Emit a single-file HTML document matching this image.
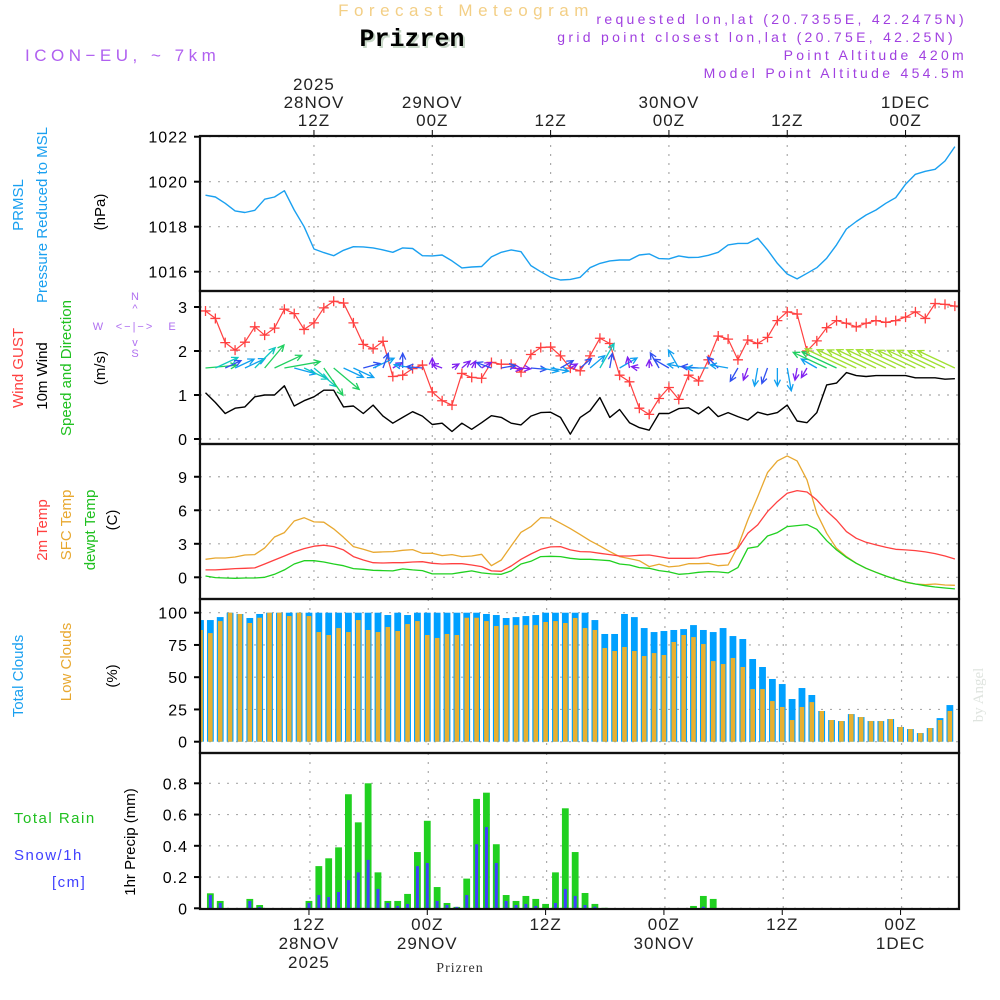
<!DOCTYPE html>
<html><head><meta charset="utf-8"><style>
html,body{margin:0;padding:0;background:#fff;}
svg{display:block;font-family:"Liberation Sans",sans-serif;}
</style></head><body>
<svg id="chart" width="1000" height="1000" viewBox="0 0 1000 1000">
<defs>
<clipPath id="clipP"><rect x="200" y="136" width="759" height="773"/></clipPath>
</defs>
<rect x="0" y="0" width="1000" height="1000" fill="#fff"/>
<text x="466" y="16" text-anchor="middle" font-size="17" fill="#f3cf86" letter-spacing="5.5">Forecast Meteogram</text>
<text x="414" y="48" text-anchor="middle" font-size="25" font-weight="bold" fill="#c8d8c8" font-family="Liberation Mono,monospace">Prizren</text>
<text x="412" y="46" text-anchor="middle" font-size="25" font-weight="bold" fill="#000" font-family="Liberation Mono,monospace">Prizren</text>
<text x="25" y="61" font-size="17" fill="#b060f0" letter-spacing="4.5">ICON−EU, ~ 7km</text>
<g font-size="14" fill="#a040e0" text-anchor="end" letter-spacing="3.3">
<text x="967" y="24">requested lon,lat (20.7355E, 42.2475N)</text>
<text x="956" y="42">grid point closest lon,lat (20.75E, 42.25N)</text>
<text x="967" y="60">Point Altitude 420m</text>
<text x="967" y="78">Model Point Altitude 454.5m</text>
</g>
<g id="grid"></g>
<g id="marks" clip-path="url(#clipP)"></g>
<g id="axes"></g>
<g font-size="15" text-anchor="middle">
<text transform="translate(23,205) rotate(-90)" fill="#1aa0f0">PRMSL</text>
<text transform="translate(47,215) rotate(-90)" fill="#1aa0f0">Pressure Reduced to MSL</text>
<text transform="translate(105,212) rotate(-90)" fill="#000">(hPa)</text>
<text transform="translate(23,368) rotate(-90)" fill="#ff4040">Wind GUST</text>
<text transform="translate(47,376) rotate(-90)" fill="#000">10m Wind</text>
<text transform="translate(71,368) rotate(-90)" fill="#20c020">Speed and Direction</text>
<text transform="translate(105,368) rotate(-90)" fill="#000">(m/s)</text>
<text transform="translate(47,530) rotate(-90)" fill="#ff4040">2m Temp</text>
<text transform="translate(71,525) rotate(-90)" fill="#e8a830">SFC Temp</text>
<text transform="translate(95,530) rotate(-90)" fill="#20c020">dewpt Temp</text>
<text transform="translate(117,520) rotate(-90)" fill="#000">(C)</text>
<text transform="translate(23,676) rotate(-90)" fill="#1aa0f0">Total Clouds</text>
<text transform="translate(71,662) rotate(-90)" fill="#e8a830">Low Clouds</text>
<text transform="translate(117,676) rotate(-90)" fill="#000">(%)</text>
<text transform="translate(135,842) rotate(-90)" fill="#000">1hr Precip (mm)</text>
</g>
<g font-size="15">
<text x="14" y="823" fill="#20c020" letter-spacing="1.5">Total   Rain</text>
<text x="14" y="860" fill="#4040ff" letter-spacing="1.5">Snow/1h</text>
<text x="52" y="887" fill="#4040ff" letter-spacing="1.5">[cm]</text>
</g>
<g font-size="11" fill="#b070f0" text-anchor="middle">
<text x="135" y="300">N</text>
<text x="135" y="312">^</text>
<text x="135" y="330" letter-spacing="2">&lt;−|−&gt;</text>
<text x="98" y="330">W</text>
<text x="172" y="330">E</text>
<text x="135" y="346">v</text>
<text x="135" y="357">S</text>
</g>
<text transform="translate(983,695) rotate(-90)" font-size="15" fill="#dfe4df" text-anchor="middle" font-family="Liberation Serif,serif">by Angel</text>
<text x="460" y="972" font-size="14" text-anchor="middle" fill="#333" font-family="Liberation Serif,serif" letter-spacing="1">Prizren</text>
</svg>
<script>
const hours = [];
for (let h = 1; h <= 77; h++) hours.push(h);
const pressure = [1019.40,1019.32,1019.04,1018.70,1018.63,1018.73,1019.22,1019.32,1019.60,1018.74,1018.0,1017.01,1016.85,1016.71,1016.95,1017.11,1017.1,1017.06,1016.97,1016.86,1017.06,1017.03,1016.71,1016.70,1016.74,1016.48,1016.17,1016.21,1016.23,1016.66,1016.86,1016.97,1016.89,1016.27,1016.0,1015.75,1015.63,1015.66,1015.75,1016.18,
1016.37,1016.48,1016.52,1016.52,1016.74,1016.79,1016.58,1016.57,1016.70,1016.63,1016.64,1016.73,1016.86,1017.19,1017.26,1017.26,1017.49,1016.97,1016.37,1015.9,1015.68,1015.93,1016.18,1016.6,1017.19,1017.9,1018.23,1018.52,1018.74,1019.04,1019.29,1019.89,1020.33,1020.46,1020.55,1020.92,1021.56];
const gust = [2.91,2.74,2.19,2.02,2.20,2.55,2.36,2.52,2.95,2.85,2.49,2.64,2.98,3.13,3.09,2.64,2.15,2.05,2.22,1.42,1.45,1.60,1.68,1.07,0.87,0.77,1.49,1.40,1.38,1.74,1.70,1.70,1.52,1.92,2.08,2.09,1.89,1.61,1.55,1.89,
2.29,2.17,1.45,1.30,0.70,0.56,0.92,1.17,0.90,1.45,1.32,1.80,2.34,2.27,1.80,2.25,2.17,2.31,2.69,2.89,2.84,2.0,2.23,2.53,2.69,2.63,2.55,2.63,2.69,2.65,2.69,2.77,2.89,2.74,3.08,3.06,3.02];
const wind = [1.05,0.83,0.58,0.70,0.73,0.96,1.0,1.0,1.21,0.75,0.87,0.96,1.11,1.11,0.73,0.75,0.58,0.77,0.52,0.36,0.49,0.62,0.52,0.33,0.36,0.17,0.36,0.22,0.37,0.53,0.49,0.36,0.32,0.52,0.60,0.61,0.49,0.11,0.49,0.64,
0.94,0.49,0.67,0.37,0.26,0.20,0.58,0.58,0.69,0.71,0.57,0.73,0.51,0.60,0.51,0.43,0.61,0.55,0.60,0.77,0.41,0.37,0.60,1.23,1.27,1.51,1.44,1.42,1.44,1.44,1.44,1.44,1.39,1.39,1.39,1.36,1.37];
const windDir = [5,25,25,25,25,45,50,25,10,-15,-25,-40,-55,-40,-25,-25,15,25,70,30,90,170,175,90,160,30,40,60,30,160,10,-5,-5,-5,-10,-10,30,30,40,40,
60,80,30,100,170,90,120,150,120,170,175,180,135,170,-120,-110,-100,-110,-90,-80,-100,-120,150,155,155,155,155,155,155,155,155,155,155,155,155,155,155];
const t2m = [0.66,0.66,0.72,0.78,0.81,0.84,1.19,1.55,1.91,2.27,2.57,2.78,2.87,2.75,2.45,1.85,1.55,1.31,1.28,1.31,1.31,1.37,1.40,1.25,1.19,1.22,1.22,1.10,0.96,0.57,0.54,1.01,1.61,2.09,2.51,2.72,2.75,2.45,2.30,2.27,
2.15,2.03,1.91,1.91,1.97,2.0,1.85,1.70,1.70,1.70,1.73,1.94,2.06,2.15,2.60,3.94,4.69,5.88,6.78,7.52,7.76,7.64,6.93,5.94,5.13,4.09,3.49,3.13,2.90,2.69,2.51,2.45,2.39,2.27,2.12,1.91,1.64];
const tsfc = [1.61,1.73,1.73,1.82,2.0,2.03,2.63,3.61,4.0,5.04,5.34,4.96,4.93,4.33,3.58,2.75,2.51,2.24,2.27,2.30,2.42,2.48,2.15,2.15,1.94,2.03,1.85,1.91,2.06,1.04,1.55,2.81,4.03,4.54,5.34,5.31,4.84,4.36,3.82,3.28,
2.81,2.30,1.85,1.67,1.49,0.96,1.16,0.93,1.01,1.22,1.22,1.25,1.04,1.10,2.75,5.13,7.22,9.37,10.42,10.87,10.42,8.72,5.73,3.94,2.60,1.85,1.25,0.81,0.45,0.12,-0.18,-0.45,-0.60,-0.66,-0.60,-0.69,-0.72];
const dewpt = [0.12,-0.03,-0.06,-0.09,-0.06,-0.06,0,0.27,0.66,1.19,1.49,1.49,1.37,1.19,1.04,0.78,0.72,0.63,0.60,0.57,0.75,0.66,0.60,0.30,0.30,0.30,0.45,0.57,0.39,0.30,0.27,0.57,1.19,1.43,1.85,1.88,1.85,1.70,1.61,1.61,
1.55,1.49,1.19,1.10,0.87,0.81,0.60,0.48,0.27,0.33,0.45,0.51,0.48,0.39,0.87,2.60,2.75,3.70,4.00,4.54,4.63,4.72,4.30,3.28,2.45,1.79,1.25,0.81,0.45,0.12,-0.18,-0.42,-0.60,-0.75,-0.87,-0.96,-1.04];
const totalClouds = [94.3,94.3,96.6,100,99,95.9,99,100,100,100,100,100,100,100,100,100,100,100,100,98.2,100,98.2,100,100,100,100,100,100,100,99,98.2,95.9,96.6,97.4,98.2,100,100,100,100,100,
94.3,83.5,83.5,99,96.6,88.1,85,85.8,86.6,87.3,90.4,86.6,85,88.1,81.9,79.6,64.1,57.9,48.6,44.7,33.1,41.6,36.2,23.8,16.8,16.0,21.4,19.1,16,16,17.6,11.4,9.8,6.7,10.6,18.3,28.4];
const lowClouds = [86.6,84.2,93.5,100,99,92,96.1,100,100,97.4,100,97.4,85,82.7,88.1,85,94.3,86.6,85,88.9,85.8,91.2,93.5,82.7,80.4,83.5,82.7,96.1,96.1,93.5,89.7,90.4,90.4,90.4,90.4,92.8,93.5,92,95.9,88.1,
86.6,72.6,70.3,73.4,70.3,66.4,68.7,67.2,77.3,82.7,81.1,75.7,62.5,60.2,64.9,57.9,40.8,40.8,31.5,26.9,16.8,26.9,30.7,23.8,16.8,16,21.4,19.1,16,16,17.6,11.4,9.8,6.7,10.6,16.8,23.8];
const rain = [0,0.096,0.047,0,0,0.060,0.021,0,0,0.002,0,0.047,0.27,0.32,0.39,0.73,0.55,0.80,0.23,0.047,0.047,0.092,0.36,0.56,0.136,0.034,0.009,0.19,0.70,0.74,0.41,0.085,0.047,0.079,0.06,0.028,0.23,0.64,0.36,0.098,
0.028,0.003,0,0,0,0,0,0,0,0,0.015,0.079,0.06,0,0,0,0,0,0,0,0,0,0,0,0,0,0,0,0,0,0,0,0,0,0,0,0];
const snow = [0,0.085,0.034,0,0,0.047,0.009,0,0,0.002,0,0.034,0.085,0.072,0.104,0.18,0.23,0.31,0.124,0.034,0.015,0.028,0.27,0.29,0.047,0.021,0.009,0.085,0.41,0.52,0.29,0.047,0.021,0.028,0.015,0,0.034,0.124,0.079,0.021,
0.01,0,0,0,0,0,0,0,0,0,0,0.01,0,0,0,0,0,0,0,0,0,0,0,0,0,0,0,0,0,0,0,0,0,0,0,0];
const pTicks = [1016,1018,1020,1022];
const wTicks = [0,1,2,3];
const tTicks = [0,3,6,9];
const cTicks = [0,25,50,75,100];
const rTicks = [0,0.2,0.4,0.6,0.8];
const timeHours = [12,24,36,48,60,72];
const topLabels = [["2025","28NOV","12Z"],["29NOV","00Z"],["12Z"],["30NOV","00Z"],["12Z"],["1DEC","00Z"]];
const bottomLabels = [["12Z","28NOV","2025"],["00Z","29NOV"],["12Z"],["00Z","30NOV"],["12Z"],["00Z","1DEC"]];

const NS = "http://www.w3.org/2000/svg";
const X = h => 205.5 + (h - 1) * 9.86;
const XB = h => X(h) - 5;
const yP = v => 271.7 - (v - 1016) * 22.5;
const yW = v => 439 - v * 44;
const yT = v => 577.3 - v * 11.17;
const yC = v => 741.7 - v * 1.29;
const yR = v => 908.3 - v * 156.25;
const L = 200, R = 959;
const panels = [[136,291],[291,444],[444,599],[599,753],[753,909]];
const grid = document.getElementById('grid');
const marks = document.getElementById('marks');
const axes = document.getElementById('axes');
function mk(tag, attrs, parent) {
  const e = document.createElementNS(NS, tag);
  for (const k in attrs) e.setAttribute(k, attrs[k]);
  parent.appendChild(e);
  return e;
}
function hgrid(ticks, yf, fmt, pname) {
  ticks.forEach(t => {
    const y = yf(t);
    const g = mk('line', {x1: L, x2: R, y1: y, y2: y, stroke: '#aaa', 'stroke-width': 1.2, 'stroke-dasharray': '2,7'}, grid);
    
    
    const tk = mk('line', {x1: L - 6, x2: L, y1: y, y2: y, stroke: '#000', 'stroke-width': 2}, axes);
    
    
    const tx = mk('text', {x: 188, y: y + 6, 'text-anchor': 'end', 'font-size': 16, fill: '#000', 'letter-spacing': 1}, axes);
    tx.textContent = fmt(t);
    
    
  });
}
hgrid(pTicks, yP, t => String(t), 'pressure');
hgrid(wTicks, yW, t => String(t), 'wind');
hgrid(tTicks, yT, t => String(t), 'temp');
hgrid(cTicks, yC, t => String(t), 'clouds');
hgrid(rTicks, yR, t => t === 0 ? '0' : t.toFixed(1), 'precip');
panels.forEach((p, i) => {
  timeHours.forEach(h => {
    const x = i >= 3 ? XB(h) + 1 : X(h);
    const g = mk('line', {x1: x, x2: x, y1: p[0], y2: p[1], stroke: '#aaa', 'stroke-width': 1.2, 'stroke-dasharray': '2,7'}, grid);
    
    
  });
});
timeHours.forEach((h, i) => {
  const x = X(h);
  const tk = mk('line', {x1: x, x2: x, y1: 130, y2: 136, stroke: '#000', 'stroke-width': 1}, axes);
  
  
  const lines = topLabels[i];
  lines.forEach((s, j) => {
    const t = mk('text', {x: x, y: 126 - (lines.length - 1 - j) * 18, 'text-anchor': 'middle', 'font-size': 17, fill: '#222', 'letter-spacing': 1}, axes);
    t.textContent = s;
    
    
  });
  const xb = XB(h);
  const bt = mk('line', {x1: xb, x2: xb, y1: 909, y2: 915, stroke: '#000', 'stroke-width': 1}, axes);
  
  
  bottomLabels[i].forEach((s, j) => {
    const t = mk('text', {x: xb, y: 930 + j * 19, 'text-anchor': 'middle', 'font-size': 17, fill: '#222', 'letter-spacing': 1}, axes);
    t.textContent = s;
    
    
  });
});
panels.forEach((p, i) => {
  const r = mk('rect', {x: L, y: p[0], width: R - L, height: p[1] - p[0], fill: 'none', stroke: '#111', 'stroke-width': 2.2}, axes);
  
  
});
function line(vals, yf, color, name, w) {
  const d = vals.map((v, i) => (i ? 'L' : 'M') + X(hours[i]).toFixed(1) + ',' + yf(v).toFixed(1)).join('');
  const p = mk('path', {d: d, fill: 'none', stroke: color, 'stroke-width': w || 1.4, 'stroke-linejoin': 'round'}, marks);
  
  
}
hours.forEach((h, i) => {
  const x = XB(h);
  const b = mk('rect', {x: x - 3.4, y: yC(totalClouds[i]), width: 6.8, height: yC(0) - yC(totalClouds[i]), fill: '#00a0ff'}, marks);
  
  
  const o = mk('rect', {x: x - 2.3, y: yC(lowClouds[i]), width: 4.6, height: yC(0) - yC(lowClouds[i]), fill: '#e8b030'}, marks);
  
  
});
hours.forEach((h, i) => {
  const x = XB(h);
  if (rain[i] > 0) {
    const b = mk('rect', {x: x - 3.4, y: yR(rain[i]), width: 6.8, height: yR(0) - yR(rain[i]), fill: '#20d020'}, marks);
    
    
  }
  if (snow[i] > 0) {
    const s = mk('rect', {x: x - 1.5, y: yR(snow[i]), width: 3, height: yR(0) - yR(snow[i]), fill: '#4040ff'}, marks);
    
    
  }
});
line(pressure, yP, '#1aa0f0', 'pressure-line', 1.4);
line(wind, yW, '#000', 'wind-speed-line', 1.4);
line(gust, yW, '#ff4040', 'wind-gust-line', 1.2);
hours.forEach((h, i) => {
  const x = X(h), y = yW(gust[i]);
  const m = mk('path', {d: `M${x-5},${y}H${x+5}M${x},${y-5}V${y+5}`, stroke: '#ff4040', 'stroke-width': 1.3, fill: 'none'}, marks);
  
  
});
function windColor(s) {
  if (s < 0.45) return '#8020f0';
  if (s < 0.6) return '#3050f0';
  if (s < 0.8) return '#10a0f0';
  if (s < 1.0) return '#10c8c0';
  if (s < 1.3) return '#20d060';
  return '#a0e030';
}
hours.forEach((h, i) => {
  const x0 = X(h), y0 = 368;
  const len = Math.max(8, wind[i] * 30);
  const a = windDir[i] * Math.PI / 180;
  const x1 = x0 + len * Math.cos(a), y1 = y0 - len * Math.sin(a);
  const ha = 0.45, hl = 7;
  const bx = Math.cos(a), by = -Math.sin(a);
  const rot = (ang) => [x1 - hl * (bx * Math.cos(ang) - by * Math.sin(ang)), y1 - hl * (bx * Math.sin(ang) + by * Math.cos(ang))];
  const p1 = rot(ha), p2 = rot(-ha);
  const arr = mk('path', {d: `M${x0},${y0}L${x1},${y1}M${p1[0]},${p1[1]}L${x1},${y1}L${p2[0]},${p2[1]}`, stroke: windColor(wind[i]), 'stroke-width': 1.3, fill: 'none'}, marks);
  
  
});
line(tsfc, yT, '#e8a830', 'sfc-temp-line', 1.3);
line(t2m, yT, '#ff4040', 't2m-line', 1.3);
line(dewpt, yT, '#20d020', 'dewpt-line', 1.3);
</script>
</body></html>
